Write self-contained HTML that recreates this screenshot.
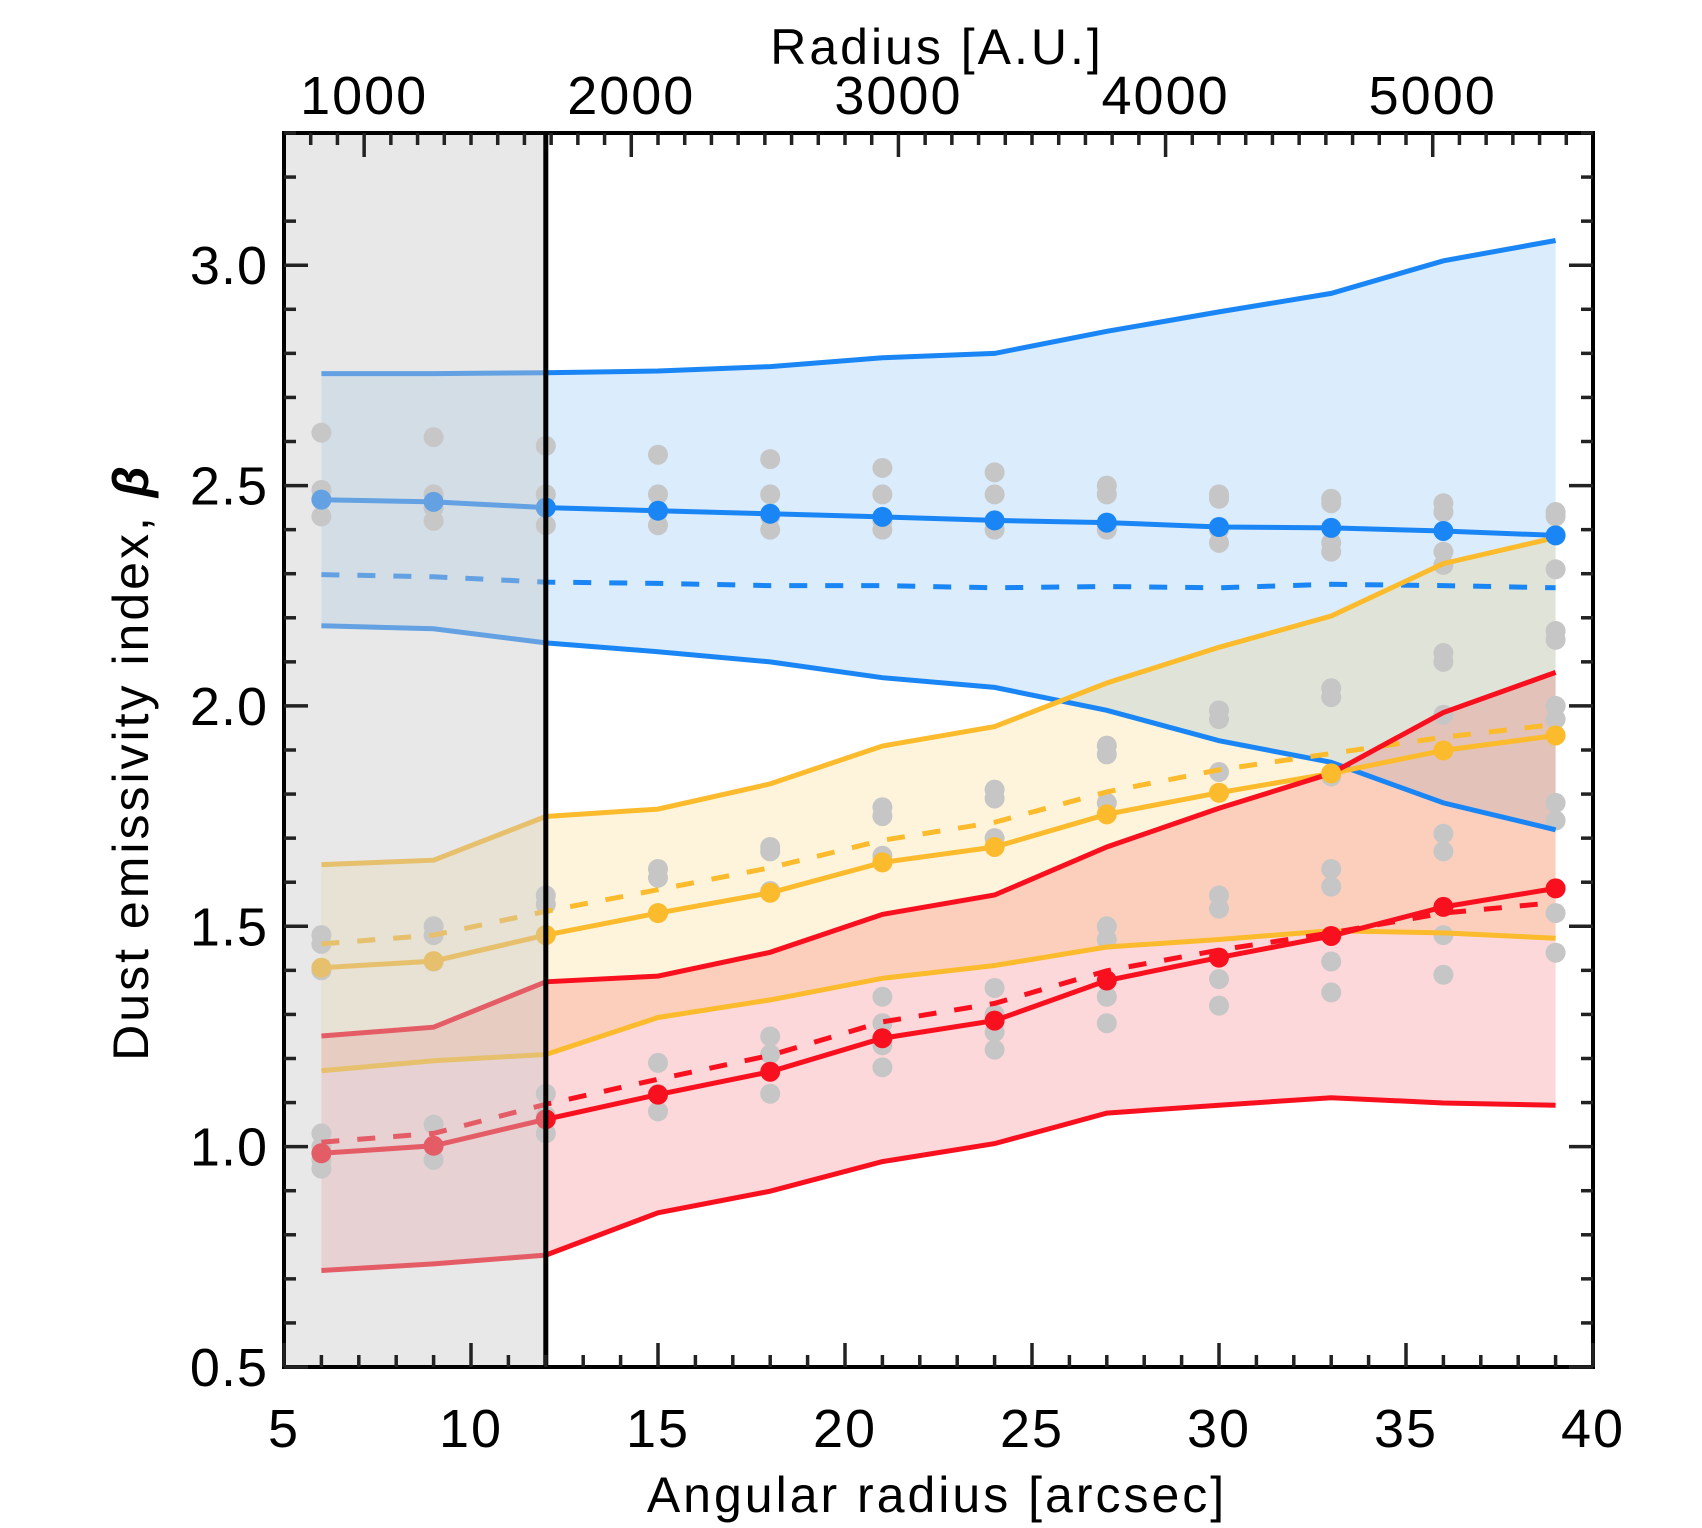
<!DOCTYPE html>
<html><head><meta charset="utf-8"><style>
html,body{margin:0;padding:0;background:#fff}
svg{display:block}
text{font-family:"Liberation Sans",sans-serif;fill:#000}
</style></head><body>
<svg id="chart" width="1702" height="1528" viewBox="0 0 1702 1528" xmlns="http://www.w3.org/2000/svg">
<g id="fills"></g>
<g id="grays"></g>
<g id="lines"></g>
<g id="dots"></g>
<rect id="shade" fill="rgb(200,200,200)" fill-opacity="0.42"></rect>
<line id="vline" stroke="#000" stroke-width="5"></line>
<g id="axes"></g>
<text x="937" y="1512" font-size="50" text-anchor="middle" letter-spacing="3">Angular radius [arcsec]</text>
<text x="937" y="64" font-size="50" text-anchor="middle" letter-spacing="3">Radius [A.U.]</text>
<text transform="translate(148,762) rotate(-90)" font-size="50" text-anchor="middle" letter-spacing="3">Dust emissivity index, <tspan font-weight="bold" font-style="italic">β</tspan></text>
</svg>
<script>
const xs=[6,9,12,15,18,21,24,27,30,33,36,39];
const blueUp=[2.754,2.754,2.756,2.76,2.77,2.79,2.80,2.85,2.894,2.936,3.01,3.056];
const blueMed=[2.468,2.463,2.45,2.443,2.436,2.429,2.421,2.416,2.406,2.404,2.397,2.387];
const blueDash=[2.298,2.293,2.281,2.278,2.273,2.273,2.268,2.271,2.268,2.276,2.273,2.268];
const blueLo=[2.182,2.175,2.143,2.123,2.10,2.064,2.042,1.99,1.921,1.872,1.78,1.719];
const yelUp=[1.64,1.65,1.749,1.766,1.823,1.909,1.953,2.052,2.133,2.204,2.323,2.382];
const yelMed=[1.406,1.421,1.48,1.53,1.576,1.645,1.68,1.754,1.803,1.847,1.899,1.933];
const yelDash=[1.46,1.48,1.534,1.583,1.633,1.695,1.736,1.805,1.855,1.892,1.929,1.958];
const yelLo=[1.172,1.195,1.209,1.293,1.333,1.382,1.411,1.453,1.470,1.49,1.485,1.473];
const redUp=[1.251,1.271,1.374,1.387,1.441,1.527,1.571,1.68,1.768,1.847,1.985,2.076];
const redMed=[0.985,1.002,1.062,1.118,1.17,1.246,1.286,1.377,1.429,1.478,1.544,1.586];
const redDash=[1.01,1.03,1.096,1.153,1.207,1.283,1.325,1.399,1.446,1.485,1.53,1.554];
const redLo=[0.719,0.734,0.754,0.85,0.899,0.966,1.007,1.076,1.094,1.111,1.099,1.094];
const grayVals=[
[2.62,2.49,2.47,2.43,1.48,1.46,1.40,1.03,1.0,0.97,0.95],
[2.61,2.48,2.45,2.42,1.50,1.48,1.42,1.05,1.0,0.97],
[2.59,2.48,2.45,2.41,1.57,1.55,1.48,1.12,1.07,1.03],
[2.57,2.48,2.44,2.41,1.63,1.61,1.53,1.19,1.12,1.08],
[2.56,2.48,2.43,2.40,1.68,1.67,1.58,1.25,1.21,1.12],
[2.54,2.48,2.42,2.40,1.77,1.75,1.66,1.34,1.28,1.23,1.18],
[2.53,2.48,2.42,2.40,1.81,1.79,1.70,1.36,1.30,1.26,1.22],
[2.50,2.48,2.41,2.40,1.91,1.89,1.78,1.50,1.47,1.34,1.28],
[2.48,2.47,2.40,2.37,1.99,1.97,1.85,1.57,1.54,1.38,1.32],
[2.47,2.46,2.37,2.35,2.04,2.02,1.84,1.63,1.59,1.42,1.35],
[2.46,2.44,2.35,2.32,2.12,2.10,1.98,1.71,1.67,1.48,1.39],
[2.44,2.43,2.31,2.17,2.15,2.0,1.97,1.78,1.74,1.53,1.44]];
const xTicks=[5,10,15,20,25,30,35,40];
const yTicks=[0.5,1.0,1.5,2.0,2.5,3.0];
const auTicks=[1000,2000,3000,4000,5000];
const shadeEnd=12;

const L=284,R=1593,T=133,B=1367,XMIN=5,XMAX=40,YMIN=0.5,YMAX=3.3;
const X=v=>L+(v-XMIN)/(XMAX-XMIN)*(R-L);
const Y=v=>B-(v-YMIN)/(YMAX-YMIN)*(B-T);
const AU=a=>X(a/140);
const NS="http://www.w3.org/2000/svg";
function mk(tag,attrs,parent){const e=document.createElementNS(NS,tag);for(const k in attrs)e.setAttribute(k,attrs[k]);parent.appendChild(e);return e;}
const G=id=>document.getElementById(id);
const pts=arr=>arr.map((v,i)=>X(xs[i]).toFixed(1)+','+Y(v).toFixed(1)).join(' ');

const series=[
 {n:'blue',up:blueUp,lo:blueLo,med:blueMed,dash:blueDash,c:'#1a86f5',f:'rgba(40,140,240,0.17)'},
 {n:'yellow',up:yelUp,lo:yelLo,med:yelMed,dash:yelDash,c:'#fbbb2c',f:'rgba(252,190,40,0.17)'},
 {n:'red',up:redUp,lo:redLo,med:redMed,dash:redDash,c:'#f8101f',f:'rgba(245,40,50,0.18)'}];
series.forEach(s=>{
 const band=mk('polygon',{fill:s.f},G('fills'));
 band.setAttribute('points',pts(s.up)+' '+s.lo.map((v,i)=>X(xs[i]).toFixed(1)+','+Y(v).toFixed(1)).reverse().join(' '));
 
 
});
xs.forEach((x,i)=>{grayVals[i].forEach(v=>{
 const c=mk('circle',{cx:X(x),cy:Y(v),r:10,fill:'#c6c6c6'},G('grays'));
 
 
});});
series.forEach(s=>{
 [['up','upper'],['lo','lower'],['med','median'],['dash','dashed']].forEach(([k,nm])=>{
  const l=mk('polyline',{points:pts(s[k]),fill:'none',stroke:s.c,'stroke-width':5},G('lines'));
  if(k==='dash')l.setAttribute('stroke-dasharray','18 18');
  
  
 });
 s.med.forEach((v,i)=>{
  const c=mk('circle',{cx:X(xs[i]),cy:Y(v),r:10,fill:s.c},G('dots'));
  
  
 });
});
const sh=G('shade');sh.setAttribute('x',L);sh.setAttribute('y',T);sh.setAttribute('width',X(shadeEnd)-L);sh.setAttribute('height',B-T);
const vl=G('vline');vl.setAttribute('x1',X(shadeEnd));vl.setAttribute('x2',X(shadeEnd));vl.setAttribute('y1',T);vl.setAttribute('y2',B);

const ax=G('axes');
mk('rect',{x:L,y:T,width:R-L,height:B-T,fill:'none',stroke:'#000','stroke-width':4},ax);
const tk=(x1,y1,x2,y2)=>mk('line',{x1,y1,x2,y2,stroke:'#222','stroke-width':3.5},ax);
for(let v=XMIN;v<=XMAX;v++){const big=v%5===0,len=big?24:12;tk(X(v),B,X(v),B-len);}
for(let i=5;i<=33;i++){const v=i/10,big=i%5===0,len=big?24:12;tk(L,Y(v),L+len,Y(v));tk(R,Y(v),R-len,Y(v));}
for(let a=800;a<=5600;a+=100){const x=AU(a);if(x<L+2||x>R-2)continue;const big=a%1000===0;tk(x,T,x,T+(big?24:12));}
xTicks.forEach(v=>{const t=mk('text',{x:X(v),y:1447,'font-size':54,'text-anchor':'middle','letter-spacing':2},ax);t.textContent=v;
 
 });
yTicks.forEach(v=>{const t=mk('text',{x:268,y:Y(v)+19,'font-size':54,'text-anchor':'end','letter-spacing':1},ax);t.textContent=v.toFixed(1);
 
 });
auTicks.forEach(a=>{const t=mk('text',{x:AU(a),y:114,'font-size':54,'text-anchor':'middle','letter-spacing':2},ax);t.textContent=a;
 
 });
</script>
</body></html>
